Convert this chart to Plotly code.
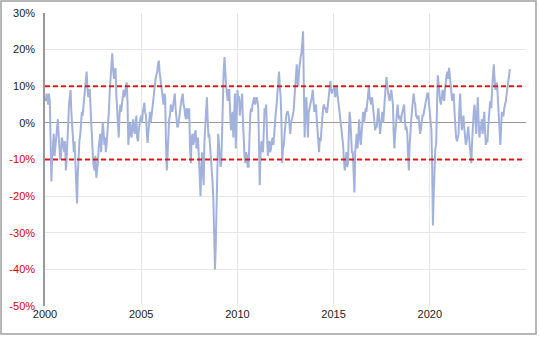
import plotly.graph_objects as go

years = list(range(2000, 2025))

# value on the 1st of each month (%)
values = {
    2000: [7, 8, 5, 6, -16, -5, -9, -4, 1, -6, -9, -5],
    2001: [-8, -13, -4, 5, 9, -2, -8, -12, -22, -8, -3, 3],
    2002: [5, 8, 14, 7, 9, -3, -10, -13, -15, -11, -5, -8],
    2003: [0, -6, -8, -3, 4, 14, 19, 12, 15, 3, -4, 5],
    2004: [6, 9, 8, 11, -6, 0, -4, 1, -3, 2, -5, 0],
    2005: [2, 3, 5.5, 2, -5.5, 1, 0, 4, 9, 12, 14, 17],
    2006: [12, 9, 5, 7, -13, -2, 2, 4, 5, 8, 1, -1],
    2007: [3, 6, 8, 4, 1, 3, 4, -11, -3, -5, -2, -6],
    2008: [-10, -20, -8, -17, 0, 7, -4, -6, -12, -21, -40, -26],
    2009: [-3, -8, -11, 6, 18, 10, 6, 9, -2, 3, 5, -7],
    2010: [9, 7, 4, 8, -6, -11, -9, -12, 2, 3, 6, 5],
    2011: [7, 4, -17, -5, -8, 4, 5, -9, -5, -7, -4, -2],
    2012: [3, 8, 14, 7, -11, -6, 0, 3, 2, -3, 1, 3],
    2013: [10, 16, 10, 17, 19, 25, -4, 7, -4, 4, 6, 9],
    2014: [3, 5, -3, -8, -5, 3, 5, 4, 3, 6, 11.5, 8],
    2015: [9, 7, 10, 6, 3, -2, -6, -13, -8, -11, 3, -7],
    2016: [-8, -19, -5, -7, 1, -6, 2, 0, 4, 5, 10, 6],
    2017: [7, 3, -2, -1, 4, -3, 2, 0, 7, 12.5, 8, 6],
    2018: [9, 5, -7, 1, 5, 1, 0, 3, 5, -2, -3, -13],
    2019: [0, 4, 8, 5, 1, 2, -3, 1, 2, 5, 7, 8],
    2020: [3, -2, -28, -9, -6, 13, 8, 5, 9, 6, 12, 14],
    2021: [15, 12, 6, 8, -2, -5, -3, 8, -2, 2, -3, -5],
    2022: [-1, -7, -11, 1, 5, -3, 7, -4, -1, -3, 3, -6],
    2023: [-5, 4, 6, 10, 16, 9, 11, 4, -6, 3, 2, 5],
    2024: [8, 12, 14.7],
}

# value on the 15th of each month (%)
mid_values = {
    2000: [6, 7, 8, -4, -10, -3, -7, -2, -3, -10, -4, -6],
    2001: [-5, -10, 2, 7, 3, -6, -5, -16, -14, -5, 1, 2],
    2002: [7, 11, 10, 9, 4, -7, -12, -9, -13, -7, -3, -5],
    2003: [-2, -4, -6, 1, 9, 17, 15, 14, 8, -3, 2, 3],
    2004: [8, 7, 10, 6, -3, -3, -1, -2, 0, -4, -2, 1],
    2005: [0, 5, 3, -2, -3, 3, 2, 6, 11, 13, 16, 14],
    2006: [10, 7, 8, -5, -9, 1, 5, 3, 7, 4, -1, 1],
    2007: [5, 7, 5, 2, 4, 1, -6, -4, -6, -3, -7, -4],
    2008: [-15, -12, -13, -5, 5, 1, -3, -9, -16, -30, -34, -14],
    2009: [-6, -12, -2, 14, 12, 8, 9, 3, 1, -4, 8, 2],
    2010: [7, 2, 6, 1, -9, -8, -12, -4, 4, 5, 7, 6],
    2011: [6, -6, -9, -7, -3, 3, -2, -7, -8, -5, -6, 0],
    2012: [5, 11, 10, 1, -7, -3, 2, 3, -1, 0, 2, 6],
    2013: [13, 11, 14, 18, 22, 10, 5, 2, 3, 5, 7, 5],
    2014: [4, 1, -6, -4, -2, 4, 4, 3, 5, 9, 9, 9],
    2015: [10, 8, 8, 4, 1, -4, -10, -11, -12, -4, 1, -8],
    2016: [-12, -8, -3, -2, -4, -3, 3, 2, 3, 7, 7, 5],
    2017: [5, 1, -1, 2, 1, -1, 3, 4, 10, 9, 7, 8],
    2018: [7, -3, -3, 3, 2, 2, 2, 4, 1, -1, -9, -6],
    2019: [1, 6, 6, 2, 1, 0, -2, 2, 3, 5, 8, 6],
    2020: [1, -12, -20, -7, 2, 11, 6, 8, 7, 9, 13, 12],
    2021: [13, 9, 7, 3, -4, -4, 4, 2, 0, -1, -6, -2],
    2022: [-4, -9, -5, 3, 1, 2, 1, -2, 1, 0, -2, -5],
    2023: [-1, 5, 4, 13, 12, 10, 7, -1, -1, 2, 4, 6],
    2024: [10, 13],
}

thresholds = [10, -10]
y_ticks = [30, 20, 10, 0, -10, -20, -30, -40, -50]
x_tick_years = [2000, 2005, 2010, 2015, 2020]

dates, vals = [], []
for y in years:
    firsts = values[y]
    mids = mid_values[y]
    for m, v in enumerate(firsts, start=1):
        dates.append(f"{y}-{m:02d}-01")
        vals.append(v / 100)
        if m <= len(mids):
            dates.append(f"{y}-{m:02d}-15")
            vals.append(mids[m - 1] / 100)

fig = go.Figure()
fig.add_trace(go.Scatter(x=dates, y=vals, mode="lines",
                         line=dict(color="#a2b2dc", width=2), hoverinfo="skip"))

for t in thresholds:
    fig.add_shape(type="line", xref="paper", x0=0, x1=0.995, yref="y", y0=t / 100, y1=t / 100,
                  line=dict(color="#e8141c", width=2, dash="5px,3px"), layer="above")

tick_text = [f'<span style="color:#e00000">{t}%</span>' if t < 0 else f"{t}%" for t in y_ticks]

fig.update_layout(
    width=540, height=338,
    margin=dict(l=45, r=14, t=13, b=32, autoexpand=False),
    paper_bgcolor="white", plot_bgcolor="white",
    showlegend=False,
    font=dict(family="Liberation Sans, Arial, sans-serif", size=11, color="#222"),
    xaxis=dict(type="date", range=["2000-01-01", "2025-01-01"],
               tickvals=[f"{y}-01-01" for y in x_tick_years],
               ticktext=[str(y) for y in x_tick_years],
               showgrid=True, gridcolor="#e6e6e6", gridwidth=1, automargin=False,
               showline=False, zeroline=False, ticks=""),
    yaxis=dict(range=[-0.5, 0.3], tickvals=[t / 100 for t in y_ticks], ticktext=tick_text,
               showgrid=True, gridcolor="#e6e6e6", gridwidth=1, automargin=False,
               zeroline=True, zerolinecolor="#999999", zerolinewidth=1,
               showline=True, linecolor="#999999", linewidth=1.5, ticks="",
               ticklabelstandoff=6),
)

fig.add_shape(type="rect", xref="paper", yref="paper",
              x0=(1 - 45) / 481, x1=(536 - 45) / 481,
              y0=(306 - 334) / 293, y1=(306 - 1) / 293,
              line=dict(color="#a0a0a0", width=1.5), fillcolor="rgba(0,0,0,0)", layer="below")

fig.write_html("out.html")
